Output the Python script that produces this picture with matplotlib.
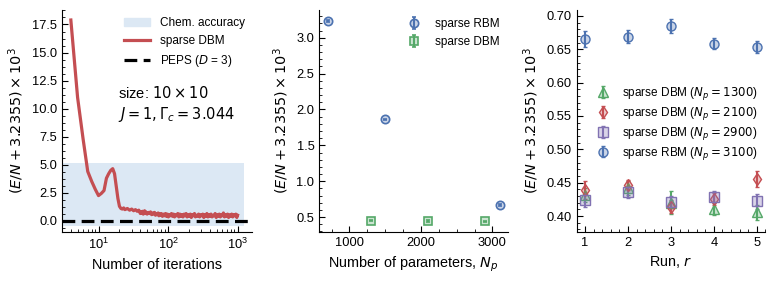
import matplotlib
matplotlib.use("Agg")
import matplotlib.pyplot as plt
from matplotlib.ticker import AutoMinorLocator
from matplotlib.patches import Patch
from matplotlib.lines import Line2D

plt.rcParams['font.family'] = ['Liberation Sans', 'DejaVu Sans']
plt.rcParams['mathtext.fontset'] = 'dejavusans'

blue = '#4C72B0'
green = '#55A868'
red = '#C44E52'
purple = '#8172B2'

# panel (a): convergence of sparse DBM
iters = [4, 5, 6, 7, 8, 9, 10, 11, 12, 13, 14, 15, 16, 17, 18, 19, 20, 21, 22, 23,
         24, 26, 28, 30, 32, 34, 36, 38,
         40, 41, 42, 43, 44, 45, 46, 47, 48, 49,
         50, 52, 54, 56, 58, 60, 62, 64, 66, 68,
         70, 72, 74, 76, 78, 80, 83, 86, 89, 92,
         95, 98, 101, 104, 108, 112, 116, 120, 124, 128,
         133, 138, 143, 148, 153, 158, 164, 170, 176, 182,
         188, 195, 202, 209, 216, 224, 232, 240, 248, 257,
         266, 275, 285, 295, 305, 316, 327, 338, 350, 362,
         375, 388, 401, 415, 430, 445, 460, 476, 493, 510,
         528, 546, 565, 585, 605, 626, 648, 671, 694, 718,
         743, 769, 796, 824, 852, 882, 912, 944, 976, 1000]
err_dbm = [17.9, 11.0, 7.3, 4.4, 3.5, 2.8, 2.25, 2.45, 2.7, 3.8, 4.2, 4.5, 4.65, 4.2,
           3.1, 2.0, 1.3, 1.1, 1.05, 1.15, 1.0, 1.1, 0.95, 1.05, 0.9, 1.0, 0.85, 0.95,
           0.65, 0.8, 0.7, 0.85, 0.6, 0.75, 0.9, 0.65, 0.8, 0.7,
           0.6, 0.75, 0.65, 0.8, 0.55, 0.7, 0.6, 0.75, 0.5, 0.65,
           0.55, 0.7, 0.45, 0.6, 0.5, 0.65, 0.4, 0.6, 0.45, 0.65,
           0.4, 0.6, 0.35, 0.55, 0.45, 0.65, 0.4, 0.6, 0.35, 0.55,
           0.45, 0.65, 0.35, 0.6, 0.4, 0.55, 0.35, 0.6, 0.45, 0.65,
           0.35, 0.55, 0.4, 0.6, 0.3, 0.55, 0.45, 0.65, 0.35, 0.5,
           0.4, 0.6, 0.35, 0.55, 0.45, 0.6, 0.3, 0.55, 0.4, 0.65,
           0.35, 0.55, 0.4, 0.6, 0.35, 0.5, 0.45, 0.65, 0.3, 0.55,
           0.4, 0.6, 0.35, 0.55, 0.45, 0.7, 0.35, 0.55, 0.4, 0.6,
           0.3, 0.55, 0.4, 0.6, 0.35, 0.55, 0.45, 0.6, 0.3, 0.5]
peps = 0.0
chem_acc = (-0.5, 5.15)
chem_x = (3.0, 1220)

# panel (b): error vs number of parameters
np_rbm = [700, 1500, 3100]
e_rbm = [3.235, 1.862, 0.666]
de_rbm = [0.012, 0.012, 0.012]
np_dbm = [1300, 2100, 2900]
e_dbm = [0.452, 0.445, 0.442]
de_dbm = [0.01, 0.01, 0.01]

# panel (c): repeated runs
runs = [1, 2, 3, 4, 5]
run_1300 = [0.4315, 0.442, 0.420, 0.411, 0.4055]
err_1300 = [0.010, 0.010, 0.017, 0.010, 0.011]
run_2100 = [0.439, 0.4465, 0.414, 0.425, 0.4555]
err_2100 = [0.013, 0.008, 0.010, 0.009, 0.012]
run_2900 = [0.424, 0.4355, 0.4205, 0.428, 0.422]
err_2900 = [0.011, 0.009, 0.009, 0.009, 0.011]
run_3100 = [0.6655, 0.669, 0.685, 0.6585, 0.654]
err_3100 = [0.012, 0.010, 0.010, 0.008, 0.009]

ylab = r'$(E/N + 3.2355)\times 10^3$'
lab_fs = 10.4
tick_fs = 9.3
leg_fs = 8.5
dash = (0, (4, 2))

fig = plt.figure(figsize=(7.77, 2.83), dpi=100)
ax1 = fig.add_axes([0.080, 0.180, 0.244, 0.785])
ax2 = fig.add_axes([0.411, 0.180, 0.243, 0.785])
ax3 = fig.add_axes([0.742, 0.180, 0.243, 0.785])

for ax in (ax1, ax2, ax3):
    for s in ('top', 'right'):
        ax.spines[s].set_visible(False)
    ax.tick_params(which='both', direction='in', labelsize=tick_fs, top=False, right=False)
    ax.tick_params(which='major', length=4)
    ax.tick_params(which='minor', length=2)
    ax.set_ylabel(ylab, fontsize=lab_fs)

# --- (a)
ax1.fill_between(chem_x, chem_acc[0], chem_acc[1], color='#dce8f4', lw=0, zorder=0)
ax1.plot(iters, err_dbm, color=red, lw=2.3)
ax1.axhline(peps, color='black', ls=dash, lw=2.3)
ax1.set_xscale('log')
ax1.set_xlim(3.0, 1600)
ax1.set_ylim(-1.0, 18.8)
ax1.set_yticks([0, 2.5, 5, 7.5, 10, 12.5, 15, 17.5])
ax1.yaxis.set_minor_locator(AutoMinorLocator(4))
ax1.set_xlabel('Number of iterations', fontsize=lab_fs)
h1 = [Patch(color='#dce8f4'), Line2D([], [], color=red, lw=2.3),
      Line2D([], [], color='black', ls=dash, lw=2.3)]
ax1.legend(h1, ['Chem. accuracy', 'sparse DBM', r'PEPS ($D$ = 3)'], loc='upper right',
           frameon=False, fontsize=leg_fs, handlelength=2.2, borderaxespad=0.2)
ax1.text(0.295, 0.575, 'size: $10\\times10$\n$J = 1, \\Gamma_c = 3.044$', transform=ax1.transAxes,
         fontsize=10.5, va='center', linespacing=1.3)

# --- (b)
ax2.errorbar(np_rbm, e_rbm, yerr=de_rbm, fmt='o', color=blue, mfc=(0.30, 0.45, 0.69, 0.3),
             mec=blue, ms=6, mew=1.2, capsize=1.5, label='sparse RBM')
ax2.errorbar(np_dbm, e_dbm, yerr=de_dbm, fmt='s', color=green, mfc=(0.33, 0.66, 0.41, 0.3),
             mec=green, ms=6, mew=1.2, capsize=1.5, label='sparse DBM')
ax2.set_xticks([1000, 2000, 3000])
ax2.xaxis.set_minor_locator(AutoMinorLocator(4))
ax2.yaxis.set_minor_locator(AutoMinorLocator(5))
ax2.set_xlabel('Number of parameters, $N_p$', fontsize=lab_fs)
ax2.legend(loc='upper right', frameon=False, fontsize=leg_fs, borderaxespad=0.3)

# --- (c)
ax3.errorbar(runs, run_1300, yerr=err_1300, fmt='^', color=green, mfc=(0.33, 0.66, 0.41, 0.3),
             mec=green, ms=6.5, mew=1.0, capsize=1.5, label=r'sparse DBM ($N_p = 1300$)')
ax3.errorbar(runs, run_2100, yerr=err_2100, fmt='d', color=red, mfc=(0.77, 0.31, 0.32, 0.3),
             mec=red, ms=6.5, mew=1.0, capsize=1.5, label=r'sparse DBM ($N_p = 2100$)')
ax3.errorbar(runs, run_2900, yerr=err_2900, fmt='s', color=purple, mfc=(0.51, 0.45, 0.70, 0.3),
             mec=purple, ms=6.5, mew=1.0, capsize=1.5, label=r'sparse DBM ($N_p = 2900$)')
ax3.errorbar(runs, run_3100, yerr=err_3100, fmt='o', color=blue, mfc=(0.30, 0.45, 0.69, 0.3),
             mec=blue, ms=6.5, mew=1.0, capsize=1.5, label=r'sparse RBM ($N_p = 3100$)')
ax3.set_xticks(runs)
ax3.xaxis.set_minor_locator(AutoMinorLocator(5))
ax3.yaxis.set_minor_locator(AutoMinorLocator(5))
ax3.set_ylim(0.376, 0.709)
ax3.set_xlabel('Run, $r$', fontsize=lab_fs)
ax3.legend(loc='upper left', bbox_to_anchor=(0.02, 0.71), frameon=False, fontsize=leg_fs,
           handletextpad=0.6, labelspacing=0.25)

fig.savefig('out.png', dpi=100)
